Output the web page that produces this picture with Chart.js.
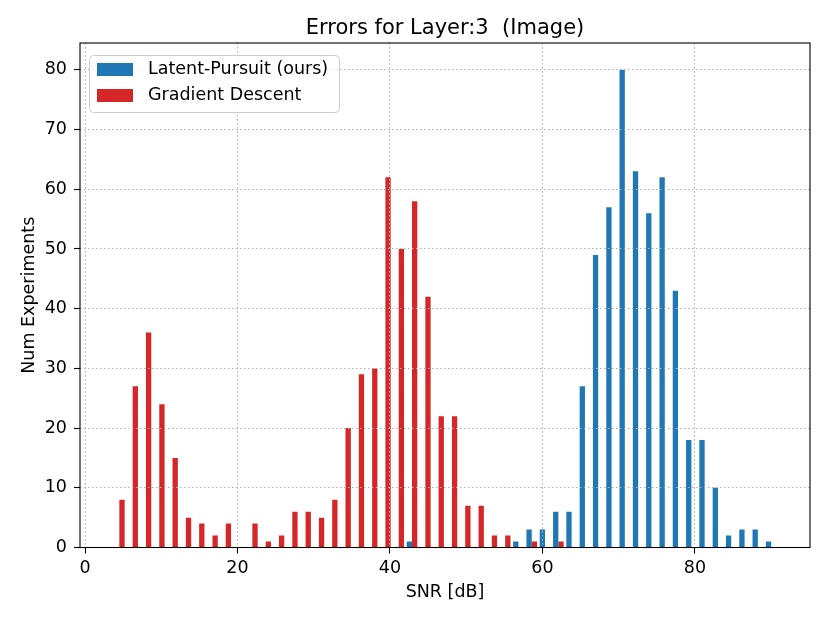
<!DOCTYPE html>
<html>
<head>
<meta charset="utf-8">
<script src="https://cdn.jsdelivr.net/npm/chart.js@4"></script>
<style>
  html, body { margin: 0; padding: 0; background: #fff; }
</style>
</head>
<body>
<canvas id="histChart" width="830" height="623"></canvas>
<script>
// SNR histogram bin centres (dB), 50 bins
const binCenters = [
  4.50, 6.25, 7.99, 9.74, 11.48, 13.23, 14.97, 16.72, 18.46, 20.21,
  21.95, 23.70, 25.44, 27.19, 28.93, 30.68, 32.42, 34.17, 35.91, 37.66,
  39.40, 41.15, 42.89, 44.64, 46.38, 48.13, 49.87, 51.62, 53.36, 55.11,
  56.85, 58.60, 60.34, 62.09, 63.83, 65.58, 67.32, 69.07, 70.81, 72.56,
  74.30, 76.05, 77.79, 79.54, 81.28, 83.03, 84.77, 86.52, 88.26, 90.01
];
const latentCounts = [
  0, 0, 0, 0, 0, 0, 0, 0, 0, 0,
  0, 0, 0, 0, 0, 0, 0, 0, 0, 0,
  0, 0, 1, 0, 0, 0, 0, 0, 0, 0,
  1, 3, 3, 6, 6, 27, 49, 57, 80, 63,
  56, 62, 43, 18, 18, 10, 2, 3, 3, 1
];
const gradientCounts = [
  8, 27, 36, 24, 15, 5, 4, 2, 4, 0,
  4, 1, 2, 6, 6, 5, 8, 20, 29, 30,
  62, 50, 58, 42, 22, 22, 7, 7, 2, 2,
  0, 1, 0, 1, 0, 0, 0, 0, 0, 0,
  0, 0, 0, 0, 0, 0, 0, 0, 0, 0
];
const xTicks = [0, 20, 40, 60, 80];
const yTicks = [0, 10, 20, 30, 40, 50, 60, 70, 80];

const FONT = '"DejaVu Sans", sans-serif';
Chart.defaults.font.family = FONT;
Chart.defaults.color = "#000";

function toPoints(counts) {
  return binCenters.map((x, i) => ({ x: x, y: counts[i] }));
}

function axisGrid() {
  return {
    color: "#b0b0b0",
    lineWidth: 1,
    offset: false,
    z: 1,
    drawTicks: true,
    tickLength: 6,
    tickColor: "#000",
    tickWidth: 1.1,
    tickBorderDash: []
  };
}

// roundish box helper (no reliance on ctx.roundRect)
function boxPath(ctx, x, y, w, h, r) {
  ctx.beginPath();
  ctx.moveTo(x + r, y);
  ctx.arcTo(x + w, y, x + w, y + h, r);
  ctx.arcTo(x + w, y + h, x, y + h, r);
  ctx.arcTo(x, y + h, x, y, r);
  ctx.arcTo(x, y, x + w, y, r);
  ctx.closePath();
}

// title, frame and in-axes legend, drawn the matplotlib way
const mplDecor = {
  id: "mplDecor",
  afterDraw(chart) {
    const { ctx, chartArea: a } = chart;
    ctx.save();

    ctx.fillStyle = "#000";
    ctx.font = "21px " + FONT;
    ctx.textAlign = "center";
    ctx.textBaseline = "middle";
    ctx.fillText("Errors for Layer:3  (Image)", (a.left + a.right) / 2, 29);

    ctx.strokeStyle = "#000";
    ctx.lineWidth = 1.1;
    ctx.strokeRect(a.left, a.top, a.right - a.left, a.bottom - a.top);

    boxPath(ctx, 89.5, 55.5, 250, 57, 4);
    ctx.fillStyle = "rgba(255,255,255,0.8)";
    ctx.fill();
    ctx.strokeStyle = "#cccccc";
    ctx.lineWidth = 1;
    ctx.stroke();

    ctx.font = "17.5px " + FONT;
    ctx.textAlign = "left";
    chart.data.datasets.forEach((ds, i) => {
      const cy = 69.5 + i * 26;
      ctx.fillStyle = ds.backgroundColor;
      ctx.fillRect(97, cy - 6.5, 36, 13);
      ctx.fillStyle = "#000";
      ctx.fillText(ds.label, 148, cy);
    });

    ctx.restore();
  }
};

new Chart(document.getElementById("histChart"), {
  type: "bar",
  data: {
    datasets: [
      {
        label: "Latent-Pursuit (ours)",
        data: toPoints(latentCounts),
        backgroundColor: "#1f77b4",
        borderWidth: 0
      },
      {
        label: "Gradient Descent",
        data: toPoints(gradientCounts),
        backgroundColor: "#d62728",
        borderWidth: 0
      }
    ]
  },
  options: {
    responsive: false,
    animation: false,
    devicePixelRatio: 1,
    categoryPercentage: 0.8,
    barPercentage: 1.0,
    layout: { padding: { top: 43, right: 20, bottom: 0, left: 0 } },
    plugins: {
      legend: { display: false },
      tooltip: { enabled: false },
      title: { display: false }
    },
    scales: {
      x: {
        type: "linear",
        min: -0.66,
        max: 95.1,
        offset: false,
        grid: axisGrid(),
        border: { display: false, dash: [1.5, 2.5] },
        ticks: { font: { size: 17.5 }, color: "#000", padding: 4, maxRotation: 0, autoSkip: false },
        afterBuildTicks: s => { s.ticks = xTicks.map(v => ({ value: v })); },
        afterFit: s => { s.height = 75.5; },
        title: {
          display: true,
          text: "SNR [dB]",
          font: { size: 17.5 },
          color: "#000",
          padding: { top: 0, bottom: 20 }
        }
      },
      y: {
        type: "linear",
        min: 0,
        max: 84.5,
        grid: axisGrid(),
        border: { display: false, dash: [1.5, 2.5] },
        ticks: { font: { size: 17.5 }, color: "#000", padding: 7 },
        afterBuildTicks: s => { s.ticks = yTicks.map(v => ({ value: v })); },
        afterFit: s => { s.width = 80; },
        title: {
          display: true,
          text: "Num Experiments",
          font: { size: 17.5 },
          color: "#000",
          padding: { top: 19, bottom: 0 }
        }
      }
    }
  },
  plugins: [mplDecor]
});
</script>
</body>
</html>
